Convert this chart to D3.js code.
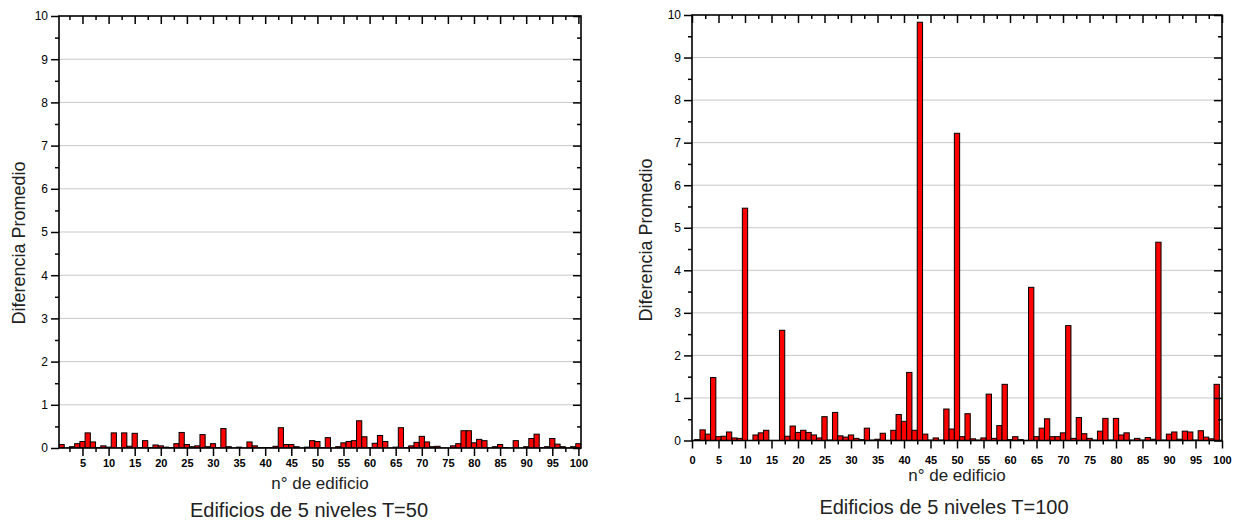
<!DOCTYPE html>
<html>
<head>
<meta charset="utf-8">
<script src="https://cdn.jsdelivr.net/npm/d3@7"></script>
<style>
    body { margin: 0; background: #fff; }
    svg { display: block; font-family: "Liberation Sans", Arial, sans-serif; }
</style>
</head>
<body>
<svg id="chart" width="1237" height="521"></svg>
<script>
// building numbers
const buildings = d3.range(1, 101);

// Diferencia promedio, T=50
const diffT50 = [
    0.08, 0.00, 0.03, 0.10, 0.15, 0.35, 0.14, 0.01, 0.05, 0.02,
    0.35, 0.00, 0.35, 0.04, 0.34, 0.01, 0.17, 0.01, 0.07, 0.05,
    0.02, 0.01, 0.10, 0.36, 0.08, 0.03, 0.05, 0.31, 0.03, 0.10,
    0.01, 0.45, 0.03, 0.00, 0.02, 0.00, 0.14, 0.05, 0.01, 0.01,
    0.01, 0.04, 0.47, 0.08, 0.08, 0.03, 0.00, 0.02, 0.17, 0.15,
    0.01, 0.24, 0.00, 0.03, 0.12, 0.15, 0.17, 0.63, 0.26, 0.01,
    0.11, 0.29, 0.15, 0.00, 0.02, 0.47, 0.01, 0.05, 0.13, 0.27,
    0.14, 0.03, 0.04, 0.00, 0.00, 0.05, 0.10, 0.40, 0.40, 0.12,
    0.20, 0.17, 0.00, 0.03, 0.08, 0.01, 0.00, 0.17, 0.00, 0.03,
    0.22, 0.32, 0.01, 0.03, 0.22, 0.09, 0.03, 0.00, 0.03, 0.10
];

// Diferencia promedio, T=100
const diffT100 = [
    0.02, 0.25, 0.15, 1.48, 0.09, 0.10, 0.20, 0.06, 0.05, 5.46,
    0.00, 0.13, 0.18, 0.24, 0.00, 0.00, 2.59, 0.10, 0.34, 0.19,
    0.24, 0.19, 0.13, 0.06, 0.56, 0.01, 0.66, 0.11, 0.08, 0.13,
    0.05, 0.02, 0.29, 0.01, 0.03, 0.17, 0.00, 0.24, 0.61, 0.45,
    1.60, 0.24, 9.83, 0.15, 0.01, 0.06, 0.01, 0.74, 0.27, 7.22,
    0.09, 0.63, 0.04, 0.01, 0.06, 1.09, 0.05, 0.35, 1.32, 0.02,
    0.09, 0.02, 0.00, 3.60, 0.09, 0.29, 0.51, 0.09, 0.09, 0.18,
    2.70, 0.05, 0.54, 0.16, 0.05, 0.01, 0.22, 0.52, 0.01, 0.52,
    0.13, 0.18, 0.01, 0.05, 0.01, 0.07, 0.03, 4.66, 0.01, 0.15,
    0.20, 0.03, 0.22, 0.20, 0.01, 0.23, 0.08, 0.04, 1.32, 0.00
];

// tick labels
const xTicksT50 = d3.range(5, 101, 5);
const xTicksT100 = d3.range(0, 101, 5);
const yTicks = d3.range(0, 11, 1);
const gridLines = d3.range(1, 10, 1);

const xTitle = 'n\u00b0 de edificio';
const yTitle = 'Diferencia Promedio';

const svg = d3.select('#chart');

const drawChart = (cfg, values) => {

    const x = d3.scaleLinear().domain(cfg.domain).range([cfg.x0, cfg.x1]);
    const y = d3.scaleLinear().domain([0, 10]).range([cfg.y1, cfg.y0]);

    const g = svg.append('g');
    const clipId = 'clip-' + cfg.id;

    g.append('clipPath').attr('id', clipId)
        .append('rect')
        .attr('x', cfg.x0).attr('y', cfg.y0 - 2)
        .attr('width', cfg.x1 - cfg.x0).attr('height', cfg.y1 - cfg.y0 + 2);

    // Gridlines.
    g.append('g').selectAll('line').data(gridLines).join('line')
        .attr('x1', cfg.x0).attr('x2', cfg.x1)
        .attr('y1', d => y(d)).attr('y2', d => y(d))
        .attr('stroke', '#c8c8c8').attr('stroke-width', 1);

    // Bars.
    const bw = x(1) - x(0);
    g.append('g').attr('clip-path', `url(#${clipId})`)
        .selectAll('rect').data(buildings).join('rect')
        .attr('x', d => x(d) - bw / 2)
        .attr('width', bw)
        .attr('y', (d, i) => y(values[i]))
        .attr('height', (d, i) => Math.max(0.01, y(0) - y(values[i])))
        .attr('fill', '#ff0000')
        .attr('stroke', '#000')
        .attr('stroke-width', 1);

    const minorX = d3.range(2.5, 100, 5);
    const minorY = d3.range(0.5, 10, 1);

    const style = sel => {
        sel.select('.domain').remove();
        sel.selectAll('line').attr('stroke', '#000').attr('stroke-width', 1.5);
    };

    // Bottom axis.
    const xb = g.append('g')
        .attr('transform', `translate(0, ${cfg.y1})`)
        .call(d3.axisBottom(x).tickValues(cfg.xTicks).tickSize(8).tickPadding(cfg.xPad));
    style(xb);
    xb.selectAll('text').attr('font-size', 11).attr('font-weight', 'bold')
        .attr('fill', '#000').attr('font-family', '"Liberation Sans", Arial, sans-serif');
    g.append('g')
        .attr('transform', `translate(0, ${cfg.y1})`)
        .call(d3.axisBottom(x).tickValues(minorX).tickSize(4).tickFormat(''))
        .call(style);

    // Top axis (ticks pointing inside).
    g.append('g')
        .attr('transform', `translate(0, ${cfg.y0})`)
        .call(d3.axisTop(x).tickValues(cfg.xTicks).tickSize(-8).tickFormat(''))
        .call(style);
    g.append('g')
        .attr('transform', `translate(0, ${cfg.y0})`)
        .call(d3.axisTop(x).tickValues(minorX).tickSize(-4).tickFormat(''))
        .call(style);

    // Left axis.
    const yl = g.append('g')
        .attr('transform', `translate(${cfg.x0}, 0)`)
        .call(d3.axisLeft(y).tickValues(yTicks).tickSize(8).tickPadding(3));
    style(yl);
    yl.selectAll('text').attr('font-size', 12).attr('fill', '#000')
        .attr('font-family', '"Liberation Sans", Arial, sans-serif');
    g.append('g')
        .attr('transform', `translate(${cfg.x0}, 0)`)
        .call(d3.axisLeft(y).tickValues(minorY).tickSize(4).tickFormat(''))
        .call(style);

    // Right axis (ticks pointing inside).
    g.append('g')
        .attr('transform', `translate(${cfg.x1}, 0)`)
        .call(d3.axisRight(y).tickValues(yTicks).tickSize(-8).tickFormat(''))
        .call(style);
    g.append('g')
        .attr('transform', `translate(${cfg.x1}, 0)`)
        .call(d3.axisRight(y).tickValues(minorY).tickSize(-4).tickFormat(''))
        .call(style);

    // Frame.
    g.append('rect')
        .attr('x', cfg.x0).attr('y', cfg.y0)
        .attr('width', cfg.x1 - cfg.x0).attr('height', cfg.y1 - cfg.y0)
        .attr('fill', 'none').attr('stroke', '#000').attr('stroke-width', 1.6);

    // Titles.
    g.append('text')
        .attr('x', cfg.xTitleX).attr('y', cfg.xTitleY)
        .attr('text-anchor', 'middle').attr('font-size', 17).attr('fill', '#222')
        .text(xTitle);

    g.append('text')
        .attr('transform', `translate(${cfg.yTitleX}, ${cfg.yTitleY}) rotate(-90)`)
        .attr('text-anchor', 'middle').attr('font-size', 18).attr('fill', '#222')
        .text(yTitle);

    g.append('text')
        .attr('x', cfg.subX).attr('y', cfg.subY)
        .attr('text-anchor', 'middle').attr('font-size', 20).attr('fill', '#222')
        .text(cfg.subtitle);
};

drawChart({
    id: 't50', domain: [0.5, 100.5], x0: 59, x1: 581, y0: 16, y1: 448,
    xTicks: xTicksT50, xPad: 3,
    xTitleX: 320, xTitleY: 489, yTitleX: 25, yTitleY: 243,
    subX: 309, subY: 517, subtitle: 'Edificios de 5 niveles T=50'
}, diffT50);

drawChart({
    id: 't100', domain: [0, 100], x0: 692, x1: 1222, y0: 15, y1: 440.5,
    xTicks: xTicksT100, xPad: 8,
    xTitleX: 957, xTitleY: 481, yTitleX: 651.5, yTitleY: 240,
    subX: 944, subY: 514, subtitle: 'Edificios de 5 niveles T=100'
}, diffT100);
</script>
</body>
</html>
